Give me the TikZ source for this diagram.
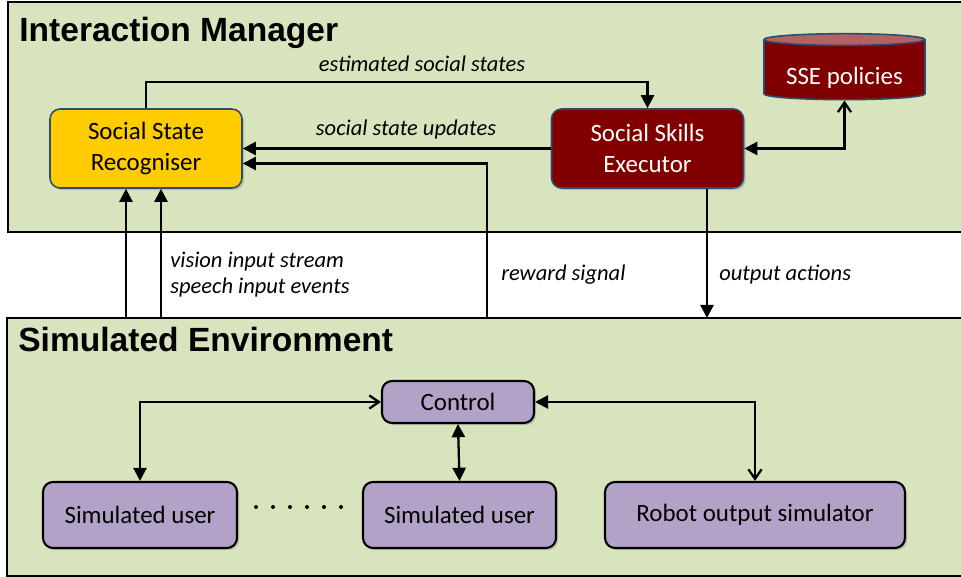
\documentclass[tikz,border=0pt]{standalone}
\usepackage{fontspec}
\setmainfont{Carlito}
\newfontfamily\headfont{Liberation Sans}
\usetikzlibrary{arrows.meta,calc,shadows,shapes.geometric}
\definecolor{panelgreen}{HTML}{D7E4BD}
\definecolor{ssryellow}{HTML}{FFCC00}
\definecolor{ssered}{HTML}{800000}
\definecolor{poltop}{HTML}{B26262}
\definecolor{boxblue}{HTML}{2E4A6E}
\definecolor{simpurple}{HTML}{B3A2C7}
\tikzset{
  panel/.style={fill=panelgreen, draw=none, anchor=north west, inner sep=0pt,
    drop shadow={opacity=0.35, shadow xshift=1.2pt, shadow yshift=-1.2pt}},
  paneltitle/.style={anchor=base west, inner sep=0pt, font=\headfont\bfseries\fontsize{19.1}{22}\selectfont},
  box/.style={rounded corners=0.2cm, align=center, inner sep=0pt,
    font=\fontsize{14.2}{17.6}\selectfont,
    drop shadow={opacity=0.35, shadow xshift=1.2pt, shadow yshift=-1.2pt}},
  imbox/.style={box, draw=boxblue, line width=0.9pt, minimum width=3.84cm, minimum height=1.58cm},
  simbox/.style={box, fill=simpurple, draw=black, line width=1.2pt, minimum height=1.32cm},
  lbl/.style={inner sep=0pt, font=\itshape\fontsize{12.8}{15}\selectfont},
  arr/.style={line width=1.3pt, -{Triangle[length=7.5pt,width=7.5pt]}},
  dbl/.style={line width=1.3pt, {Triangle[length=7.5pt,width=7.5pt]}-{Triangle[length=7.5pt,width=7.5pt]}},
  dblbarb/.style={line width=1.3pt, {Triangle[length=7.5pt,width=7.5pt]}-{Straight Barb[length=5.5pt,width=7.5pt]}}
}

\begin{document}
\begin{tikzpicture}[x=0.02cm, y=-0.02cm]
			%%%%% START %%%%%
			\useasboundingbox (0,0) rectangle (961,577);
			
			% interaction manager
			\node[panel, minimum width=19.06cm, minimum height=4.58cm] (im) at (8,2) {};
			\draw[line width=1.2pt] (im.north east) -- (im.north west) -- (im.south west) -- (im.south east);
			\node[paneltitle] (imtitle) at (19,42) {Interaction Manager};
			
			\node[imbox, fill=ssryellow] (ssr) at (146,148.5) {Social State\\Recogniser};
			\node[imbox, fill=ssered, text=white] (sse) at (647.5,148.5) {Social Skills\\Executor};
			\node[cylinder, shape border rotate=90, aspect=0.1, draw=boxblue, line width=0.9pt,
				cylinder uses custom fill, cylinder body fill=ssered, cylinder end fill=poltop,
				minimum width=3.22cm, minimum height=1.32cm, text=white, inner sep=0pt,
				font=\fontsize{14.2}{17.6}\selectfont] (pol) at (844.5,70) {\raisebox{-0.3cm}[0pt][0pt]{SSE policies}};
			
			% simulated environment
			\node[panel, minimum width=19.08cm, minimum height=5.14cm] (se) at (7,318) {};
			\draw[line width=1.2pt] (se.north east) -- (se.north west) -- (se.south west) -- (se.south east);
			\node[paneltitle] (setitle) at (18,352) {Simulated Environment};
			
			\node[simbox, minimum width=3.04cm, minimum height=0.84cm] (ctl) at (458,402) {Control};
			\node[simbox, minimum width=3.88cm] (su1) at (140,515) {Simulated user};
			\node[simbox, minimum width=3.86cm] (su2) at (459.5,515) {Simulated user};
			\node[simbox, minimum width=6.0cm] (ros) at (755,515) {Robot output simulator};
			\foreach \i in {0,...,5}
				\fill (256+17*\i,507) circle (2);
			
			% labels
			\node[lbl] (lest) at (422,64) {estimated social states};
			\node[lbl] (lupd) at (406,130) {social state updates};
			\node[lbl, anchor=west] (lvis) at (170,262) {vision input stream};
			\node[lbl, anchor=west] (lspeech) at (170,288) {speech input events};
			\node[lbl, anchor=west] (lreward) at (501,275) {reward signal};
			\node[lbl, anchor=west] (lout) at (719,275) {output actions};
			
			% connectors
			\coordinate (vis) at (126,318);
			\coordinate (speech) at (161,318);
			\coordinate (reward) at (487,318);
			\coordinate (out) at (707,318);
			
			\draw[arr] (ssr.north) -- ++(0,-26) -| (sse.north);
			\draw[arr] (sse.west) -- (sse.west -| ssr.east);
			\draw[arr] (reward) |- ($(ssr.east)+(0,15)$);
			\draw[arr] (vis) -- (vis |- ssr.south);
			\draw[arr] (speech) -- (speech |- ssr.south);
			\draw[arr] (out |- sse.south) -- (out);
			\draw[dblbarb] (sse.east) -| (pol.south);
			
			\draw[dblbarb] (su1.north) |- (ctl.west);
			\draw[dbl] (ctl.south) -- (su2.north);
			\draw[dblbarb] (ctl.east) -| (ros.north);
			
			%%%%% END %%%%%
		\end{tikzpicture}
\end{document}
